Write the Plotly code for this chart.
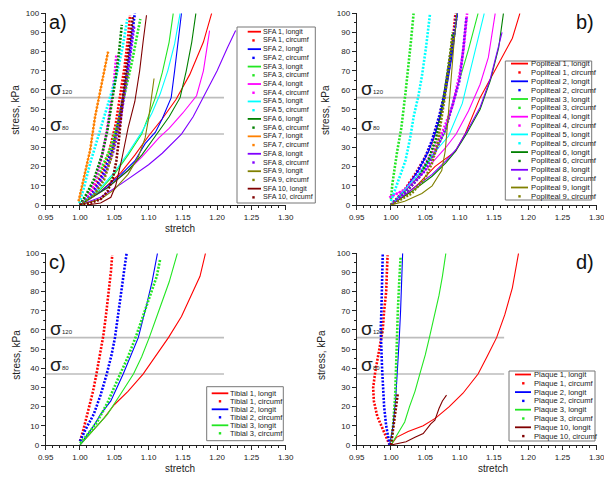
import plotly.graph_objects as go

# page body has an 8px margin: figure is sized so that it ends at the window edge
OFF = 8
W, H = 612 - OFF, 480 - OFF

# ---------------- data (stretch, stress kPa) ----------------
colors = {
    "red": "#FF0000", "blue": "#0000FF", "green": "#22E622", "magenta": "#FF00FF",
    "cyan": "#00FFFF", "dkgreen": "#008000", "orange": "#FF8000", "violet": "#8000FF",
    "olive": "#808000", "maroon": "#800000",
}

# Panel a: SFA
sfa_ids = [1, 2, 3, 4, 5, 6, 7, 8, 9, 10]
sfa_colors = ["red", "blue", "green", "magenta", "cyan", "dkgreen", "orange", "violet", "olive", "maroon"]
sfa_longit_x = [
    [1.0, 1.03, 1.06, 1.08, 1.10, 1.12, 1.14, 1.16, 1.18, 1.192],
    [1.0, 1.03, 1.06, 1.08, 1.095, 1.11, 1.12, 1.133, 1.138, 1.141, 1.145, 1.148],
    [1.0, 1.03, 1.05, 1.07, 1.09, 1.10, 1.11, 1.12, 1.13, 1.136],
    [1.0, 1.04, 1.07, 1.09, 1.105, 1.115, 1.13, 1.15, 1.17, 1.18, 1.189],
    [1.0, 1.03, 1.05, 1.07, 1.09, 1.105, 1.117, 1.128, 1.138, 1.146],
    [1.0, 1.04, 1.07, 1.09, 1.11, 1.13, 1.146, 1.155, 1.163, 1.169],
    [0.998, 1.008, 1.015, 1.022, 1.03, 1.036, 1.041],
    [1.0, 1.03, 1.06, 1.08, 1.10, 1.12, 1.148, 1.165, 1.18, 1.20, 1.215, 1.227],
    [1.0, 1.03, 1.05, 1.07, 1.085, 1.095, 1.10, 1.104, 1.108],
    [1.01, 1.03, 1.045, 1.052, 1.061, 1.07, 1.08, 1.087, 1.092, 1.097],
]
sfa_longit_y = [
    [0, 7, 17, 26, 36, 45, 55, 68, 85, 100],
    [0, 7, 16, 23, 32, 38, 45, 56, 70, 80, 92, 100],
    [0, 8, 16, 26, 37, 46, 56, 69, 85, 100],
    [0, 9, 18, 25, 31, 35, 40, 48, 57, 70, 91],
    [0, 9, 17, 27, 38, 48, 58, 70, 84, 100],
    [0, 9, 18, 26, 36, 46, 56, 70, 85, 100],
    [2, 17, 29, 46, 60, 70, 80],
    [0, 4, 11, 16, 21, 27, 37, 46, 56, 70, 82, 91],
    [0, 3, 8, 16, 25, 35, 45, 55, 66],
    [0, 1, 4, 10, 24, 40, 54, 70, 85, 99],
]
sfa_circ_x = [
    [1.0, 1.015, 1.03, 1.042, 1.052, 1.059, 1.065, 1.07, 1.073],
    [1.0, 1.02, 1.035, 1.048, 1.057, 1.065, 1.071, 1.076, 1.08],
    [1.0, 1.015, 1.03, 1.045, 1.057, 1.067, 1.076, 1.083, 1.088],
    [1.0, 1.01, 1.02, 1.03, 1.039, 1.045, 1.05, 1.053],
    [0.999, 1.005, 1.015, 1.025, 1.034, 1.044, 1.053, 1.062, 1.069],
    [1.0, 1.01, 1.02, 1.032, 1.04, 1.046, 1.052, 1.057, 1.061],
    [0.998, 1.008, 1.015, 1.022, 1.03, 1.036, 1.041],
    [1.0, 1.02, 1.035, 1.048, 1.058, 1.065, 1.071, 1.076, 1.079],
    [1.0, 1.02, 1.035, 1.045, 1.053, 1.06, 1.066, 1.07],
    [1.0, 1.015, 1.03, 1.04, 1.048, 1.053, 1.057, 1.061, 1.065, 1.07, 1.074, 1.077],
]
sfa_circ_y = [
    [0, 6, 15, 27, 42, 58, 72, 87, 99],
    [0, 7, 17, 30, 45, 60, 75, 88, 100],
    [0, 8, 18, 30, 45, 60, 75, 88, 97],
    [0, 4, 10, 22, 38, 52, 66, 78],
    [1, 8, 22, 34, 45, 56, 67, 82, 97],
    [0, 6, 13, 26, 39, 52, 66, 80, 94],
    [2, 17, 29, 46, 60, 70, 80],
    [0, 6, 15, 27, 42, 57, 72, 85, 93],
    [0, 5, 13, 24, 37, 50, 62, 70],
    [0, 1, 3, 7, 14, 23, 35, 52, 65, 78, 90, 98],
]

# Panel b: Popliteal
pop_ids = [1, 2, 3, 4, 5, 6, 8, 9]
pop_colors = ["red", "blue", "green", "magenta", "cyan", "dkgreen", "violet", "olive"]
pop_longit_x = [
    [1.0, 1.02, 1.04, 1.064, 1.094, 1.108, 1.13, 1.15, 1.177, 1.188],
    [1.0, 1.02, 1.04, 1.055, 1.065, 1.075, 1.083, 1.09, 1.097],
    [1.0, 1.02, 1.04, 1.06, 1.079, 1.094, 1.113, 1.127],
    [0.997, 1.02, 1.04, 1.06, 1.08, 1.095, 1.113, 1.13, 1.142, 1.152],
    [1.0, 1.02, 1.04, 1.06, 1.084, 1.104, 1.118, 1.128, 1.136],
    [1.0, 1.03, 1.06, 1.08, 1.094, 1.11, 1.13, 1.145, 1.157, 1.164],
    [1.0, 1.03, 1.06, 1.08, 1.095, 1.11, 1.13, 1.145, 1.158, 1.162],
    [1.0, 1.02, 1.045, 1.06, 1.074, 1.079, 1.082, 1.085, 1.088, 1.092, 1.096],
]
pop_longit_y = [
    [0, 5, 11, 20, 28, 37, 56, 69, 87, 100],
    [0, 8, 18, 28, 38, 50, 65, 80, 100],
    [0, 7, 15, 25, 38, 58, 81, 100],
    [4, 8, 14, 22, 30, 37, 49, 63, 77, 100],
    [0, 8, 16, 26, 36, 53, 74, 88, 100],
    [0, 7, 15, 22, 28, 37, 50, 65, 82, 100],
    [0, 8, 16, 23, 29, 38, 51, 66, 84, 90],
    [0, 2, 6, 10, 18, 28, 40, 55, 70, 85, 100],
]
pop_circ_x = [
    [1.0, 1.02, 1.035, 1.05, 1.06, 1.07, 1.078, 1.085, 1.09, 1.094],
    [1.0, 1.02, 1.035, 1.05, 1.06, 1.07, 1.078, 1.085, 1.091, 1.096],
    [1.0, 1.002, 1.009, 1.015, 1.021, 1.025, 1.029, 1.033],
    [0.998, 1.02, 1.04, 1.06, 1.075, 1.09, 1.10, 1.106, 1.111],
    [1.0, 1.006, 1.014, 1.021, 1.028, 1.033, 1.04, 1.045, 1.051, 1.057],
    [1.0, 1.02, 1.04, 1.055, 1.065, 1.072, 1.078, 1.083, 1.087, 1.09],
    [1.0, 1.03, 1.05, 1.065, 1.08, 1.09, 1.10, 1.105, 1.11],
    [1.0, 1.03, 1.05, 1.06, 1.068, 1.074, 1.08, 1.085, 1.09],
]
pop_circ_y = [
    [0, 8, 16, 25, 33, 45, 58, 72, 85, 100],
    [0, 7, 15, 25, 34, 46, 58, 72, 86, 100],
    [3, 11, 28, 40, 58, 70, 85, 100],
    [4, 8, 16, 27, 38, 52, 68, 82, 100],
    [2, 8, 15, 23, 35, 46, 57, 67, 82, 100],
    [0, 6, 14, 24, 34, 45, 58, 70, 80, 90],
    [0, 10, 18, 28, 40, 52, 65, 80, 98],
    [0, 6, 14, 22, 32, 45, 60, 75, 88],
]

# Panel c: Tibial
tib_ids = [1, 2, 3]
tib_colors = ["red", "blue", "green"]
tib_longit_x = [
    [1.0, 1.01, 1.02, 1.035, 1.05, 1.07, 1.092, 1.11, 1.129, 1.148, 1.162, 1.175, 1.183],
    [1.0, 1.01, 1.02, 1.03, 1.045, 1.063, 1.075, 1.085, 1.095, 1.105, 1.113],
    [1.0, 1.02, 1.04, 1.06, 1.078, 1.09, 1.101, 1.115, 1.13, 1.142],
]
tib_longit_y = [
    [0, 4, 8, 14, 21, 28, 37, 46, 56, 67, 78, 88, 100],
    [0, 5, 10, 16, 23, 37, 47, 56, 70, 85, 100],
    [0, 8, 16, 27, 37, 46, 56, 70, 85, 100],
]
tib_circ_x = [
    [1.0, 1.005, 1.012, 1.019, 1.024, 1.03, 1.034, 1.038, 1.042, 1.045, 1.047],
    [1.0, 1.008, 1.02, 1.03, 1.039, 1.046, 1.051, 1.056, 1.061, 1.064, 1.068],
    [1.0, 1.01, 1.025, 1.04, 1.056, 1.07, 1.082, 1.095, 1.105, 1.112, 1.117],
]
tib_circ_y = [
    [2, 8, 18, 28, 37, 48, 57, 68, 80, 90, 99],
    [2, 8, 16, 26, 37, 47, 56, 68, 82, 90, 100],
    [1, 5, 12, 22, 35, 46, 57, 70, 80, 88, 97],
]

# Panel d: Plaque
plq_ids = [1, 2, 3, 10]
plq_colors = ["red", "blue", "green", "maroon"]
plq_longit_x = [
    [1.0, 1.008, 1.025, 1.047, 1.065, 1.085, 1.105, 1.127, 1.14, 1.154, 1.166, 1.177, 1.186],
    [0.998, 1.003, 1.007, 1.01, 1.012, 1.014, 1.016, 1.017],
    [1.0, 1.01, 1.02, 1.027, 1.035, 1.042, 1.05, 1.056, 1.063, 1.07, 1.075, 1.08],
    [1.0, 1.022, 1.035, 1.047, 1.058, 1.064, 1.07, 1.075, 1.081],
]
plq_longit_y = [
    [0, 4, 7, 10, 14, 20, 27, 37, 46, 56, 68, 82, 100],
    [0, 10, 25, 40, 55, 70, 85, 100],
    [0, 6, 12, 20, 28, 37, 47, 56, 67, 78, 88, 100],
    [0, 1.7, 4, 6, 11, 13, 19, 23, 26],
]
plq_circ_x = [
    [0.998, 0.993, 0.988, 0.98, 0.975, 0.974, 0.977, 0.981, 0.985, 0.988, 0.99, 0.993, 0.994, 0.995],
    [0.998, 0.995, 0.993, 0.99, 0.988, 0.987, 0.986, 0.985, 0.986, 0.987, 0.987, 0.988],
    [1.0, 1.003, 1.006, 1.007, 1.008, 1.01, 1.012, 1.014],
    [1.0, 1.002, 1.004, 1.006, 1.008, 1.01, 1.01],
]
plq_circ_y = [
    [0, 4, 8, 15, 23, 30, 38, 46, 52, 60, 70, 80, 90, 99],
    [0, 5, 10, 20, 30, 40, 50, 60, 70, 80, 90, 100],
    [0, 10, 25, 40, 55, 70, 85, 98],
    [0, 5, 10, 15, 20, 25, 27],
]

ref_levels = [37, 56]          # sigma80, sigma120
ref_labels = ["80", "120"]
ref_end = [1.21, 1.165, 1.21, 1.165]
panel_letters = ["a)", "b)", "c)", "d)"]

x_ticks = [0.95, 1.00, 1.05, 1.10, 1.15, 1.20, 1.25, 1.30]
y_ticks = [0, 10, 20, 30, 40, 50, 60, 70, 80, 90, 100]

# ---------------- layout geometry (window pixels) ----------------
PW, PH = 240, 191.7
origins = [(45.7, 13.3), (356.7, 13.3), (45.7, 253.3), (356.7, 253.3)]

def px(x):
    return (x - OFF) / W

def py(y):
    return 1 - (y - OFF) / H

FONT = "Liberation Sans, Arial, sans-serif"
fig = go.Figure()

panels = [
    ("SFA", sfa_ids, sfa_colors, sfa_longit_x, sfa_longit_y, sfa_circ_x, sfa_circ_y),
    ("Popliteal", pop_ids, pop_colors, pop_longit_x, pop_longit_y, pop_circ_x, pop_circ_y),
    ("Tibial", tib_ids, tib_colors, tib_longit_x, tib_longit_y, tib_circ_x, tib_circ_y),
    ("Plaque", plq_ids, plq_colors, plq_longit_x, plq_longit_y, plq_circ_x, plq_circ_y),
]

for p, (prefix, ids, cols, lx, ly, cx, cy) in enumerate(panels):
    sfx = "" if p == 0 else str(p + 1)
    xa, ya = "x" + sfx, "y" + sfx
    for lvl in ref_levels:
        fig.add_trace(go.Scatter(x=[0.95, ref_end[p]], y=[lvl, lvl], mode="lines",
                                 line=dict(color="#BDBDBD", width=1.6), xaxis=xa, yaxis=ya,
                                 showlegend=False, hoverinfo="skip"))
    for i in range(len(ids)):
        c = colors[cols[i]]
        fig.add_trace(go.Scatter(x=lx[i], y=ly[i], mode="lines", line=dict(color=c, width=1.1),
                                 xaxis=xa, yaxis=ya, showlegend=False,
                                 name=f"{prefix} {ids[i]}, longit"))
        fig.add_trace(go.Scatter(x=cx[i], y=cy[i], mode="lines",
                                 line=dict(color=c, width=2.6, dash="2px,1.5px"),
                                 xaxis=xa, yaxis=ya, showlegend=False,
                                 name=f"{prefix} {ids[i]}, circumf"))

axis_font = dict(family=FONT, size=8, color="#222")
layout = dict(template="none", width=W, height=H, margin=dict(l=0, r=0, t=0, b=0, pad=0), autosize=False,
              paper_bgcolor="white", plot_bgcolor="white", showlegend=False)
for p, (ox, oy) in enumerate(origins):
    sfx = "" if p == 0 else str(p + 1)
    layout["xaxis" + sfx] = dict(
        domain=[px(ox), px(ox + PW)], anchor="y" + sfx, range=[0.95, 1.30], automargin=False,
        tickvals=x_ticks, ticktext=[f"{v:.2f}" for v in x_ticks],
        ticks="outside", ticklen=4, tickwidth=1, tickcolor="#222",
        showline=True, linecolor="#222", linewidth=1, showgrid=False, zeroline=False,
        tickfont=axis_font,
        minor=dict(ticks="outside", ticklen=2, tickcolor="#222", dtick=0.01, tick0=0.95, showgrid=False))
    layout["yaxis" + sfx] = dict(
        domain=[py(oy + PH), py(oy)], anchor="x" + sfx, range=[0, 100], automargin=False,
        tickvals=y_ticks, ticks="outside", ticklen=4, tickwidth=1, tickcolor="#222",
        showline=True, linecolor="#222", linewidth=1, showgrid=False, zeroline=False,
        tickfont=axis_font,
        minor=dict(ticks="outside", ticklen=2, tickcolor="#222", dtick=5, tick0=0, showgrid=False))
fig.update_layout(**layout)

annotations = []
shapes = []

# axis titles
ytitle_pos = [(15.7, 110), (326, 110), (15.7, 355), (321, 355)]
for (xx, yy) in ytitle_pos:
    annotations.append(dict(text="stress, kPa", x=px(xx), y=py(yy), xref="paper", yref="paper",
                            textangle=-90, showarrow=False, font=dict(family=FONT, size=10, color="#222"),
                            xanchor="center", yanchor="middle"))
xtitle_pos = [(180, 228.5), None, (180, 468.5), (492.7, 468.5)]
for pos in xtitle_pos:
    if pos is None:
        continue
    annotations.append(dict(text="stretch", x=px(pos[0]), y=py(pos[1]), xref="paper", yref="paper",
                            showarrow=False, font=dict(family=FONT, size=10, color="#222"),
                            xanchor="center", yanchor="middle"))

# panel letters
letter_pos = [(47, 22, "left"), (596, 22, "right"), (47, 262, "left"), (596, 262, "right")]
for (xx, yy, anc), t in zip(letter_pos, panel_letters):
    annotations.append(dict(text=t, x=px(xx), y=py(yy), xref="paper", yref="paper", showarrow=False,
                            font=dict(family=FONT, size=20, color="#111"), xanchor=anc, yanchor="middle"))

# sigma labels
for p in range(4):
    sfx = "" if p == 0 else str(p + 1)
    for lvl, lab in zip(ref_levels, ref_labels):
        annotations.append(dict(text="σ", x=0.9535, y=lvl, xref="x" + sfx, yref="y" + sfx,
                                showarrow=False, font=dict(family=FONT, size=19, color="#222"),
                                xanchor="left", yanchor="bottom", yshift=-3))
        annotations.append(dict(text=lab, x=0.9705, y=lvl, xref="x" + sfx, yref="y" + sfx,
                                showarrow=False, font=dict(family=FONT, size=6, color="#222"),
                                xanchor="left", yanchor="bottom", yshift=1))

# custom legends (window-pixel geometry)
legend_geo = [
    dict(box=(237, 27, 315.3, 203), row0=31.7, step=8.72, line=(247.7, 261), dot=253.5, text=262, fs=7.1),
    dict(box=(505.3, 61, 591.7, 200), row0=63.6, step=8.85, line=(511, 528), dot=519.5, text=530, fs=7.7),
    dict(box=(206.7, 386.7, 283.3, 440.7), row0=393.3, step=8.0, line=(211.7, 228.3), dot=220, text=229.3, fs=7.5),
    dict(box=(509, 371, 595, 441), row0=374.5, step=8.8, line=(515, 531), dot=523.3, text=533.3, fs=7.6),
]
for p, (prefix, ids, cols, *_rest) in enumerate(panels):
    g = legend_geo[p]
    x0, y0, x1, y1 = g["box"]
    shapes.append(dict(type="rect", xref="paper", yref="paper", x0=px(x0), x1=px(x1), y0=py(y1), y1=py(y0),
                       line=dict(color="#777", width=1), fillcolor="white", layer="above"))
    row = 0
    for i, sid in enumerate(ids):
        c = colors[cols[i]]
        for kind in ["longit", "circumf"]:
            yy = g["row0"] + row * g["step"]
            if kind == "longit":
                shapes.append(dict(type="line", xref="paper", yref="paper", x0=px(g["line"][0]), x1=px(g["line"][1]),
                                   y0=py(yy), y1=py(yy), line=dict(color=c, width=1.8), layer="above"))
            else:
                r = 1.2
                shapes.append(dict(type="rect", xref="paper", yref="paper", x0=px(g["dot"] - r), x1=px(g["dot"] + r),
                                   y0=py(yy + r), y1=py(yy - r), line=dict(width=0), fillcolor=c, layer="above"))
            annotations.append(dict(text=f"{prefix} {sid}, {kind}", x=px(g["text"]), y=py(yy),
                                    xref="paper", yref="paper", showarrow=False,
                                    font=dict(family=FONT, size=g["fs"], color="#222"),
                                    xanchor="left", yanchor="middle", borderpad=0))
            row += 1

fig.update_layout(annotations=annotations, shapes=shapes)
fig.write_html("out.html")
